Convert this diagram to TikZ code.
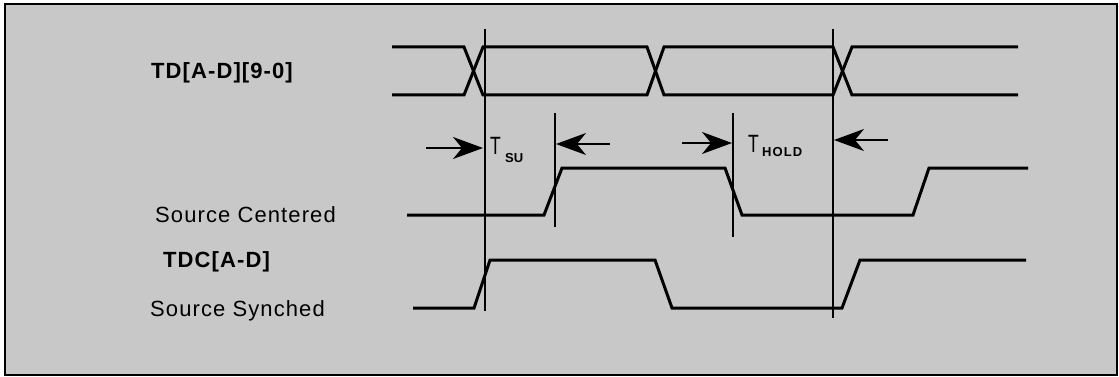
\documentclass[tikz,border=0pt]{standalone}
\usepackage{fontspec}
\setmainfont{Liberation Sans}
\usetikzlibrary{arrows.meta}
\definecolor{panel}{HTML}{C8C8C8}
\tikzset{
  sig/.style={line width=3pt, line join=miter},
  refline/.style={line width=1.3pt},
  dimarrow/.style={line width=1.3pt, -{Stealth[length=30pt,width=22pt,inset=9pt]}},
  lbl/.style={anchor=west, inner sep=0pt, font=\fontsize{22}{24}\selectfont\addfontfeature{LetterSpace=5}},
  blbl/.style={anchor=west, inner sep=0pt, font=\fontsize{22}{24}\selectfont\bfseries\addfontfeature{LetterSpace=5}},
  tmain/.style={anchor=base west, inner sep=0pt, font=\fontsize{25}{27}\selectfont},
  tsub/.style={anchor=base west, inner sep=0pt, font=\fontsize{13}{15}\selectfont\bfseries}
}
\begin{document}
\begin{tikzpicture}[x=1pt,y=-1pt]
\useasboundingbox (0,0) rectangle (1119,377);
\fill[white] (0,0) rectangle (1119,377);
\draw[line width=2pt, fill=panel] (5,4) rectangle (1117,375);

% labels
\node[blbl] (td) at (151,73) {TD[A-D][9-0]};
\node[lbl] (sc) at (155,215) {Source Centered};
\node[blbl] (tdc) at (163,262) {TDC[A-D]};
\node[lbl] (ss) at (150,311) {Source Synched};

% bus
\draw[sig] (392,47) -- (464,47) -- (483,95) -- (647,95) -- (664,47) -- (833,47) -- (852,95) -- (1018,95);
\draw[sig] (392,95) -- (464,95) -- (483,47) -- (647,47) -- (664,95) -- (833,95) -- (852,47) -- (1018,47);

% source centered
\draw[sig] (407,215) -- (544,215) -- (562,168) -- (725,168) -- (742,215) -- (913,215) -- (929,168) -- (1028,168);

% source synched
\draw[sig] (413,308) -- (474,308) -- (490,260) -- (655,260) -- (672,308) -- (842,308) -- (860,260) -- (1026,260);

% reference lines
\coordinate (v1t) at (485,29);  \coordinate (v1b) at (485,311);
\coordinate (v2t) at (555,113); \coordinate (v2b) at (555,227);
\coordinate (v3t) at (733,113); \coordinate (v3b) at (733,237);
\coordinate (v4t) at (833,29);  \coordinate (v4b) at (833,318);
\draw[refline] (v1t) -- (v1b);
\draw[refline] (v2t) -- (v2b);
\draw[refline] (v3t) -- (v3b);
\draw[refline] (v4t) -- (v4b);

% dimension arrows
\coordinate (a1s) at (426,148); \coordinate (a1e) at (483,148);
\coordinate (a2s) at (610,144); \coordinate (a2e) at (556,144);
\coordinate (a3s) at (682,143); \coordinate (a3e) at (732,143);
\coordinate (a4s) at (888,140); \coordinate (a4e) at (834,140);
\draw[dimarrow] (a1s) -- (a1e);
\draw[dimarrow] (a2s) -- (a2e);
\draw[dimarrow] (a3s) -- (a3e);
\draw[dimarrow] (a4s) -- (a4e);

% timing labels
\node[tmain] (tsu) at (490,155) {\scalebox{0.7}[1]{T}};
\node[tsub] (su) at (505,162) {SU};
\node[tmain] (thold) at (748,153) {\scalebox{0.7}[1]{T}};
\node[tsub, font=\fontsize{13}{15}\selectfont\bfseries\addfontfeature{LetterSpace=8}] (hold) at (762,157) {HOLD};
\end{tikzpicture}
\end{document}
